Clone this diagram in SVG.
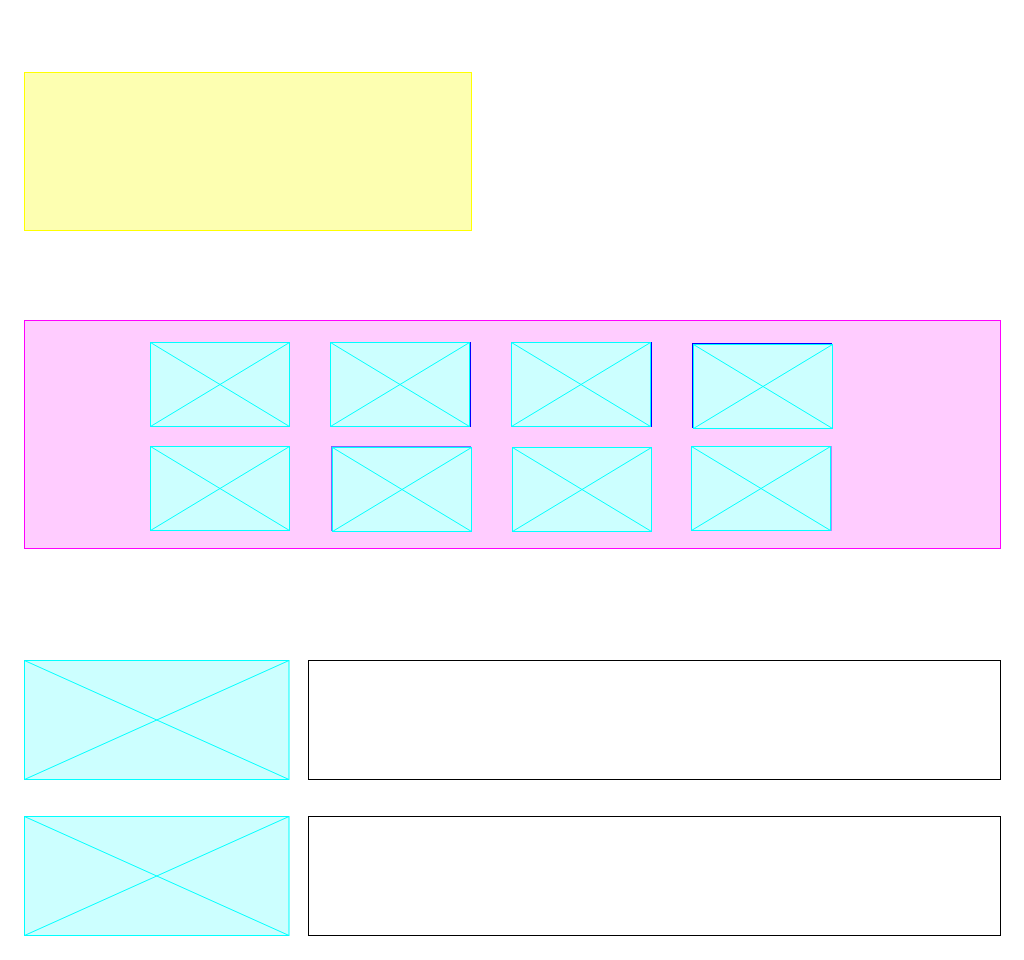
<svg xmlns="http://www.w3.org/2000/svg" width="1024" height="960" viewBox="0 0 1024 960">
<style>
.bg{fill:#ffffff}
.note{fill:#fdffb1;stroke:#ffff00;stroke-width:1}
.panel{fill:#ffccff;stroke:#ff00ff;stroke-width:1}
.ph{fill:#ccffff;stroke:#00ffff;stroke-width:1}
.phx{stroke:#00ffff;stroke-width:1;fill:none}
.edge{fill:none;stroke:#0000ff;stroke-width:1}
.txt{fill:#ffffff;stroke:#000000;stroke-width:1}
</style>
<rect class="bg" x="0" y="0" width="1024" height="960"/>
<g id="note">
<rect class="note" x="24.5" y="72.5" width="447" height="158"/>
</g>
<g id="panel">
<rect class="panel" x="24.5" y="320.5" width="976" height="228"/>
</g>
<g id="img1">
<rect class="ph" x="150.5" y="342.5" width="139" height="84"/>
<path class="phx" d="M150.5 342.5L289.5 426.5M289.5 342.5L150.5 426.5"/>
</g>
<g id="img2">
<rect class="edge" x="331.5" y="342.5" width="139" height="84"/>
<rect class="ph" x="330.5" y="342.5" width="139" height="84"/>
<path class="phx" d="M330.5 342.5L469.5 426.5M469.5 342.5L330.5 426.5"/>
</g>
<g id="img3">
<rect class="edge" x="512.5" y="342.5" width="139" height="84"/>
<rect class="ph" x="511.5" y="342.5" width="139" height="84"/>
<path class="phx" d="M511.5 342.5L650.5 426.5M650.5 342.5L511.5 426.5"/>
</g>
<g id="img4">
<rect class="edge" x="692.5" y="343.5" width="139" height="84"/>
<rect class="ph" x="693.5" y="344.5" width="139" height="84"/>
<path class="phx" d="M693.5 344.5L832.5 428.5M832.5 344.5L693.5 428.5"/>
</g>
<g id="img5">
<rect class="ph" x="150.5" y="446.5" width="139" height="84"/>
<path class="phx" d="M150.5 446.5L289.5 530.5M289.5 446.5L150.5 530.5"/>
</g>
<g id="img6">
<rect class="edge" x="331.5" y="446.5" width="139" height="84" opacity="0.5"/>
<rect class="ph" x="332.5" y="447.5" width="139" height="84"/>
<path class="phx" d="M332.5 447.5L471.5 531.5M471.5 447.5L332.5 531.5"/>
</g>
<g id="img7">
<rect class="ph" x="512.5" y="447.5" width="139" height="84"/>
<path class="phx" d="M512.5 447.5L651.5 531.5M651.5 447.5L512.5 531.5"/>
</g>
<g id="img8">
<rect class="edge" x="692" y="446.5" width="139" height="84" opacity="0.6"/>
<rect class="ph" x="691.5" y="446.5" width="139" height="84"/>
<path class="phx" d="M691.5 446.5L830.5 530.5M830.5 446.5L691.5 530.5"/>
</g>
<g id="thumb1">
<rect class="ph" x="24.5" y="660.5" width="264.5" height="119"/>
<path class="phx" d="M24.5 660.5L289 779.5M289 660.5L24.5 779.5"/>
</g>
<g id="text1">
<rect class="txt" x="308.5" y="660.5" width="692" height="119"/>
</g>
<g id="thumb2">
<rect class="ph" x="24.5" y="816.5" width="264.5" height="119"/>
<path class="phx" d="M24.5 816.5L289 935.5M289 816.5L24.5 935.5"/>
</g>
<g id="text2">
<rect class="txt" x="308.5" y="816.5" width="692" height="119"/>
</g>
<g id="connectors"/>
</svg>
